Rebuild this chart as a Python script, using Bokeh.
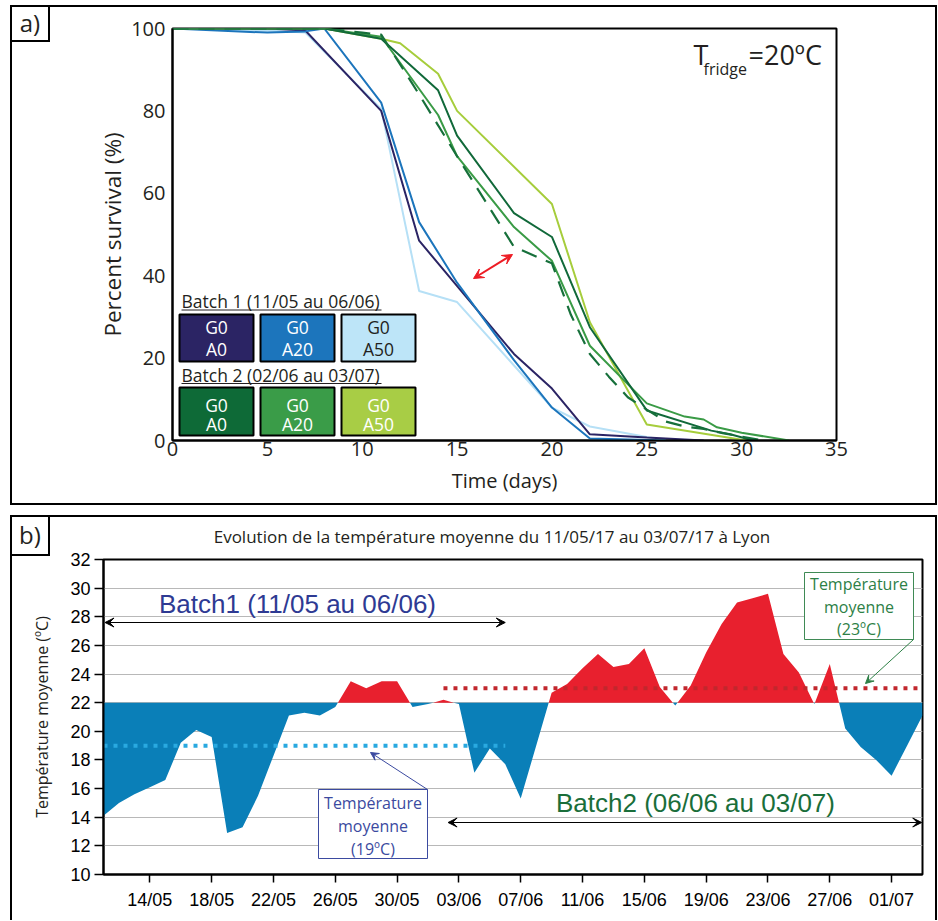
import numpy as np
import pandas as pd
from bokeh.plotting import figure
from bokeh.layouts import column, row
from bokeh.models import Range1d, FixedTicker, Label, Arrow, VeeHead, Div, Spacer
from bokeh.core.properties import value
from bokeh.embed import file_html
from bokeh.resources import INLINE

# ---------------- data : panel a) survival ----------------
b1_g0a0_day = [0, 5, 7, 11, 13, 18, 20, 22, 25, 28]
b1_g0a0_pct = [100, 100, 99.5, 80, 48.5, 21, 12.6, 1.5, 0.7, 0]
b1_g0a20_day = [0, 5, 7, 8, 11, 13, 15, 18, 20, 22, 26]
b1_g0a20_pct = [100, 99, 99.3, 100, 82, 53, 38.3, 19.5, 8, 0.5, 0]
b1_g0a50_day = [0, 5, 7, 11, 13, 15, 18, 20, 22, 26]
b1_g0a50_pct = [100, 99.5, 99, 80.5, 36.3, 33.6, 18.2, 8, 3.4, 0]
b2_g0a0_day = [0, 8, 11, 14, 15, 18, 20, 22, 25, 28.4, 29.4, 30.6]
b2_g0a0_pct = [100, 100, 97.5, 85, 74, 55.2, 49.4, 27.5, 7.3, 2.4, 1.5, 0]
b2_g0a20_day = [0, 8, 11, 14, 15, 18, 20, 22, 25, 27, 28, 28.7, 30, 32.5]
b2_g0a20_pct = [100, 100, 98, 79, 69, 51.8, 43.6, 23, 9, 5.8, 5.1, 3.2, 1.9, 0]
b2_g0a50_day = [0, 8, 11, 12, 14, 15, 20, 22, 25, 30, 30.5]
b2_g0a50_pct = [100, 100, 97.5, 96.4, 89, 80, 57.4, 28.7, 3.9, 0.2, 0]
b2_dash_day = [0, 8, 10, 11, 13, 15, 18, 20, 21, 22, 23, 24, 25, 26, 27, 28, 29, 30, 31]
b2_dash_pct = [100, 100, 99, 98.5, 84, 69, 47, 43, 30.5, 21, 15.5, 10.5, 7.5, 4.6, 3.4, 2.8, 1.8, 0.9, 0.1]
a_x_ticks = [0, 5, 10, 15, 20, 25, 30, 35]
a_y_ticks = [0, 20, 40, 60, 80, 100]

# ---------------- data : panel b) temperature ----------------
start_date = "11/05/2017"
temp_mean = [14.1, 15.0, 15.6, 16.1, 16.6, 19.2, 20.1, 19.6, 12.9, 13.3,
             15.5, 18.3, 21.1, 21.3, 21.1, 21.7, 23.5, 23.0, 23.5, 23.5,
             21.7, 21.9, 22.2, 21.9, 17.1, 18.8, 17.7, 15.3, 19.0, 22.7,
             23.3, 24.4, 25.4, 24.5, 24.7, 25.8, 23.1, 21.8, 23.2, 25.5,
             27.5, 29.0, 29.3, 29.6, 25.4, 24.1, 21.9, 24.7, 20.2, 18.9,
             18.0, 16.9, 19.0, 21.1]
baseline_temp = 22
b_tick_labels = ["14/05", "18/05", "22/05", "26/05", "30/05", "03/06", "07/06",
                 "11/06", "15/06", "19/06", "23/06", "27/06", "01/07"]
b_y_ticks = list(range(10, 34, 2))
batch1_dates = ["11/05", "06/06"]
batch2_dates = ["02/06", "03/07"]
batch1_mean = 19
batch2_mean = 23

t0 = pd.to_datetime(start_date, format="%d/%m/%Y")
def dayof(s):
    return (pd.to_datetime(s + "/2017", format="%d/%m/%Y") - t0).days

# page-pixel -> data helpers (placement of annotations only)
def tx(X): return (X - 172.0) * 35.0 / 664.0
def ty(Y): return (440.0 - Y) * 100.0 / 412.0
def bx(X): return (X - 103.0) * 53.0 / 819.0
def by(Y): return 10.0 + (874.0 - Y) * 22.0 / 315.0

TXT = "#231f20"
OS = "Open Sans"

# =============== panel a ===============
p1 = figure(width=772, height=500, x_range=Range1d(0, 35), y_range=Range1d(0, 100),
            output_backend="svg", toolbar_location=None,
            min_border_left=93, min_border_right=15, min_border_top=23, min_border_bottom=65)
p1.border_fill_color = None
p1.background_fill_color = None
p1.grid.visible = False
p1.outline_line_color = "black"
p1.outline_line_width = 2
p1.xaxis.ticker = FixedTicker(ticks=a_x_ticks)
p1.yaxis.ticker = FixedTicker(ticks=a_y_ticks)
for ax in p1.axis:
    ax.major_tick_out = 0
    ax.major_tick_in = 0
    ax.minor_tick_out = 0
    ax.minor_tick_in = 0
    ax.axis_line_width = 2
    ax.major_label_text_font = OS
    ax.major_label_text_font_size = "20px"
    ax.major_label_text_color = TXT
    ax.axis_label_text_font = OS
    ax.axis_label_text_font_size = "20px"
    ax.axis_label_text_font_style = "normal"
    ax.axis_label_text_color = TXT
p1.xaxis.major_label_standoff = 1
p1.yaxis.major_label_standoff = 7
p1.xaxis.axis_label = "Time (days)"
p1.yaxis.axis_label = "Percent survival (%)"
p1.yaxis.axis_label_text_font_size = "22.5px"
p1.xaxis.axis_label_standoff = 8
p1.yaxis.axis_label_standoff = 0

series = [
    (b1_g0a50_day, b1_g0a50_pct, "#b6e0f6", None),
    (b1_g0a0_day, b1_g0a0_pct, "#2b2464", None),
    (b1_g0a20_day, b1_g0a20_pct, "#1c75bc", None),
    (b2_g0a50_day, b2_g0a50_pct, "#a6cd3c", None),
    (b2_g0a20_day, b2_g0a20_pct, "#3a9b46", None),
    (b2_g0a0_day, b2_g0a0_pct, "#11693a", None),
    (b2_dash_day, b2_dash_pct, "#17703b", "16 10"),
]
for xd, yd, col, dash in series:
    if dash:
        p1.line(xd, yd, line_color=col, line_width=2.2, line_dash=dash)
    else:
        p1.line(xd, yd, line_color=col, line_width=2)

red = "#ed1c24"
p1.add_layout(Arrow(start=VeeHead(size=10, fill_color=red, line_color=red),
                    end=VeeHead(size=10, fill_color=red, line_color=red),
                    x_start=tx(473), y_start=ty(278), x_end=tx(512), y_end=ty(254),
                    line_color=red, line_width=2))

# legend boxes
leg_fills = [["#2b2464", "#1c75bc", "#bde5f8"], ["#0e6a37", "#3a9c48", "#a8cd45"]]
leg_txtcol = [["white", "white", TXT], ["white", "white", "white"]]
leg_names = ["A0", "A20", "A50"]
box_x = [(179, 253), (260, 334), (341, 415)]
row_y = [(314, 361), (387, 435)]
row_lines = [(326, 348), (404, 423)]
row_titles = ["Batch 1 (11/05 au 06/06)", "Batch 2 (02/06 au 03/07)"]
title_mid = [300.5, 374]
underline_y = [309.5, 383]
for r in range(2):
    p1.text(x=[tx(181)], y=[ty(title_mid[r])], text=[row_titles[r]],
            text_font=value(OS), text_font_size="17.5px", text_color=TXT,
            text_align="left", text_baseline="middle")
    p1.segment(x0=[tx(181)], y0=[ty(underline_y[r])], x1=[tx(381)], y1=[ty(underline_y[r])],
               line_color=TXT, line_width=1)
    for c in range(3):
        p1.quad(left=[tx(box_x[c][0])], right=[tx(box_x[c][1])],
                top=[ty(row_y[r][0])], bottom=[ty(row_y[r][1])],
                fill_color=leg_fills[r][c], line_color="black", line_width=2)
        cx = tx((box_x[c][0] + box_x[c][1]) / 2)
        p1.text(x=[cx, cx], y=[ty(row_lines[r][0]), ty(row_lines[r][1])], text=["G0", leg_names[c]],
                text_font=value(OS), text_font_size="17.5px", text_color=leg_txtcol[r][c],
                text_align="center", text_baseline="middle")

# T fridge
p1.add_layout(Label(x=tx(693), y=ty(54), text="T", text_font=OS, text_font_size="27px",
                    text_color=TXT, text_align="left", text_baseline="middle"))
p1.add_layout(Label(x=tx(703), y=ty(68), text="fridge", text_font=OS, text_font_size="16px",
                    text_color=TXT, text_align="left", text_baseline="middle"))
p1.add_layout(Label(x=tx(748), y=ty(54), text="=20ºC", text_font=OS, text_font_size="27px",
                    text_color=TXT, text_align="left", text_baseline="middle"))

tag_a = Div(text=("<div style=\"width:40px;height:37px;box-sizing:border-box;border:2px solid #000;"
                  "font-family:'Open Sans';font-size:24px;line-height:32px;text-align:center;"
                  "color:#231f20;background:#fff;\">a)</div>"),
            width=69, height=37, margin=(0, 0, 0, 0))
top_panel = row(tag_a, p1, Spacer(width=86, height=10, margin=(0, 0, 0, 0)),
                styles={"outline": "2px solid #000", "outline-offset": "-2px"})

# =============== panel b ===============
p2 = figure(width=927, height=372, x_range=Range1d(0, 53), y_range=Range1d(10, 32),
            output_backend="svg", toolbar_location=None,
            min_border_left=93, min_border_right=15, min_border_top=11, min_border_bottom=46)
p2.border_fill_color = None
p2.background_fill_color = None
p2.xgrid.visible = False
p2.ygrid.ticker = FixedTicker(ticks=b_y_ticks[1:-1])
p2.ygrid.grid_line_color = "#b8b8b8"
p2.ygrid.grid_line_width = 1.2
p2.outline_line_color = "black"
p2.outline_line_width = 2
tick_pos = [dayof(s) for s in b_tick_labels]
p2.xaxis.ticker = FixedTicker(ticks=tick_pos)
p2.xaxis.major_label_overrides = {d: s for d, s in zip(tick_pos, b_tick_labels)}
p2.yaxis.ticker = FixedTicker(ticks=b_y_ticks)
for ax in p2.axis:
    ax.axis_line_width = 2
    ax.major_tick_line_width = 1.5
    ax.major_tick_in = 0
    ax.minor_tick_out = 0
    ax.minor_tick_in = 0
    ax.major_label_text_font = "Liberation Sans"
    ax.major_label_text_font_size = "18px"
    ax.major_label_text_color = "black"
p2.xaxis.major_tick_out = 8
p2.yaxis.major_tick_out = 9
p2.xaxis.major_label_standoff = 7
p2.yaxis.major_label_standoff = 4
p2.yaxis.axis_label = "Température moyenne (ºC)"
p2.yaxis.axis_label_text_font = OS
p2.yaxis.axis_label_text_font_size = "16px"
p2.yaxis.axis_label_text_font_style = "normal"
p2.yaxis.axis_label_text_color = TXT
p2.yaxis.axis_label_standoff = 14

days = np.arange(len(temp_mean), dtype=float)
T = np.array(temp_mean, dtype=float)
xs, ys = [], []
for i in range(len(T) - 1):
    xs.append(days[i]); ys.append(T[i])
    a, b = T[i] - baseline_temp, T[i + 1] - baseline_temp
    if a * b < 0:
        xs.append(days[i] + a / (a - b)); ys.append(float(baseline_temp))
xs.append(days[-1]); ys.append(T[-1])
xs = np.array(xs); ys = np.array(ys)
p2.varea(x=xs, y1=np.full_like(ys, baseline_temp), y2=np.minimum(ys, baseline_temp),
         fill_color="#0a7fb8")
p2.varea(x=xs, y1=np.full_like(ys, baseline_temp), y2=np.maximum(ys, baseline_temp),
         fill_color="#e8202e")

b1 = [dayof(s) for s in batch1_dates]
b2 = [dayof(s) for s in batch2_dates]
p2.line(b1, [batch1_mean] * 2, line_color="#29a9e0", line_width=4, line_dash="4 6")
p2.line(b2, [batch2_mean] * 2, line_color="#c1272d", line_width=4, line_dash="4 6")

blk = "black"
p2.add_layout(Arrow(start=VeeHead(size=9, fill_color=blk, line_color=blk),
                    end=VeeHead(size=9, fill_color=blk, line_color=blk),
                    x_start=b1[0] + 0.1, y_start=by(622), x_end=b1[1], y_end=by(622),
                    line_color=blk, line_width=1))
p2.add_layout(Arrow(start=VeeHead(size=9, fill_color=blk, line_color=blk),
                    end=VeeHead(size=9, fill_color=blk, line_color=blk),
                    x_start=b2[0] + 0.3, y_start=by(822), x_end=b2[1] - 0.05, y_end=by(822),
                    line_color=blk, line_width=1))
p2.text(x=[bx(297)], y=[by(603)], text=["Batch1 (11/05 au 06/06)"], text_font=value("Liberation Sans"),
        text_font_size="26px", text_color="#2e3a93", text_align="center", text_baseline="middle")
p2.text(x=[bx(695)], y=[by(802)], text=["Batch2 (06/06 au 03/07)"], text_font=value("Liberation Sans"),
        text_font_size="26px", text_color="#1a6e3a", text_align="center", text_baseline="middle")

# mean boxes
bcol = "#3b4aa0"
p2.add_layout(Arrow(end=VeeHead(size=8, fill_color=bcol, line_color=bcol),
                    x_start=bx(427), y_start=by(789), x_end=bx(370), y_end=by(752),
                    line_color=bcol, line_width=1))
p2.quad(left=[bx(318)], right=[bx(427)], top=[by(789)], bottom=[by(858)],
        fill_color="white", line_color=bcol, line_width=1)
p2.text(x=[bx(372.5)] * 3, y=[by(802), by(825), by(848)],
        text=["Température", "moyenne", "(%dºC)" % batch1_mean], text_font=value(OS),
        text_font_size="16px", text_color=bcol, text_align="center", text_baseline="middle")
gcol = "#2d8046"
p2.add_layout(Arrow(end=VeeHead(size=8, fill_color=gcol, line_color=gcol),
                    x_start=bx(913), y_start=by(639), x_end=bx(865), y_end=by(683),
                    line_color=gcol, line_width=1))
p2.quad(left=[bx(804)], right=[bx(913)], top=[by(572)], bottom=[by(639)],
        fill_color="white", line_color="#3f8a55", line_width=1)
p2.text(x=[bx(858.5)] * 3, y=[by(583), by(606), by(628)],
        text=["Température", "moyenne", "(%dºC)" % batch2_mean], text_font=value(OS),
        text_font_size="16px", text_color=gcol, text_align="center", text_baseline="middle")

header_b = Div(text=("<div style=\"position:relative;width:927px;height:33px;\">"
                     "<div style=\"position:absolute;left:0;top:0;width:40px;height:41px;box-sizing:border-box;"
                     "border:2px solid #000;font-family:'Open Sans';font-size:24px;line-height:35px;"
                     "text-align:center;color:#231f20;\">b)</div>"
                     "<div style=\"position:absolute;left:132px;top:11px;width:700px;text-align:center;"
                     "font-family:'Open Sans';font-size:17px;line-height:22px;color:#231f20;white-space:nowrap;\">"
                     "Evolution de la température moyenne du 11/05/17 au 03/07/17 à Lyon</div></div>"),
               width=927, height=33, margin=(0, 0, 0, 0))
bottom_panel = column(header_b, p2,
                      styles={"box-shadow": "inset 2px 2px 0 0 #000, inset -2px 0 0 0 #000"})

layout = column(top_panel, bottom_panel, spacing=10, margin=(5, 0, 0, 10))
open("out.html", "w").write(file_html(layout, INLINE))
